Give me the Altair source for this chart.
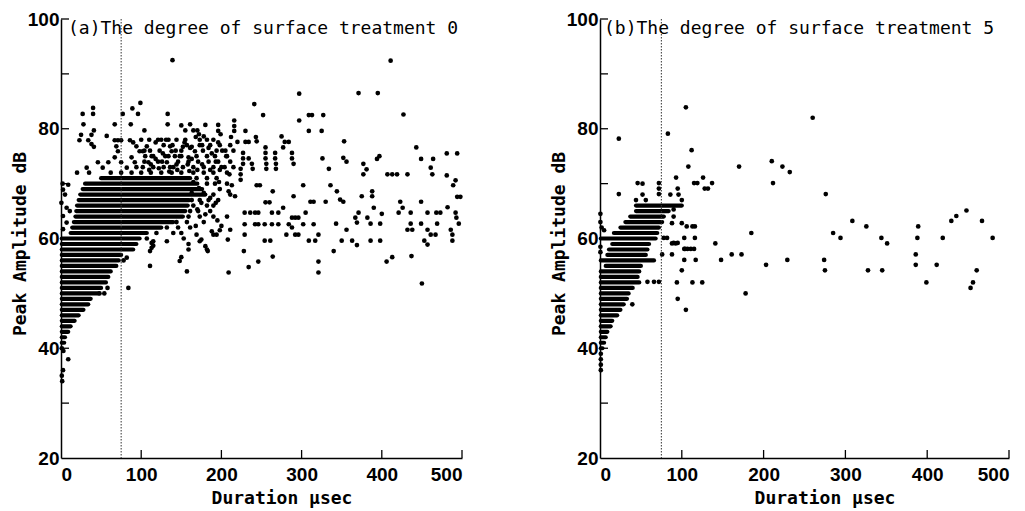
import altair as alt
import pandas as pd

# ---------------- data ----------------
TITLE_A = "(a)The degree of surface treatment 0"
TITLE_B = "(b)The degree of surface treatment 5"
X_LABELS = [0, 100, 200, 300, 400, 500]
Y_LABELS = [20, 40, 60, 80, 100]
Y_TICKS = [30, 40, 50, 60, 70, 80, 90, 100]
X_TICKS = [100, 200, 300, 400, 500]
DOTTED_X = 75

# Panel (a): dense rows (amplitude level, first duration, last duration)
A_BAND_DB = [71, 70, 69, 68, 67, 66, 65, 64, 63, 62, 61, 60, 59, 58, 57, 56,
             55, 54, 53, 52, 51, 50, 49, 48, 47, 46, 45, 44, 43, 42, 41]
A_BAND_START = [50, 30, 27, 24, 22, 20, 19, 18, 16, 14, 12, 1, 1, 1, 1, 1,
                1, 1, 1, 1, 1, 1, 1, 1, 1, 1, 1, 1, 1, 1, 1]
A_BAND_END = [161, 170, 176, 180, 160, 158, 155, 152, 140, 125, 107, 98, 94, 90, 75, 72,
              69, 62, 59, 56, 50, 47, 37, 34, 28, 22, 17, 12, 9, 5, 4]

# Panel (a): scattered events (duration, amplitude)
A_POINTS = [
    (139, 92.5), (411, 92.4), (297, 86.4), (371, 86.5), (395, 86.5), (241, 84.5), (99, 84.7),
    (89, 83.7), (427, 82.6), (27, 82.7), (40, 83.8), (40, 82.7), (77, 82.7), (96, 82.7),
    (133, 82.7), (252, 82.5), (309, 82.5), (313, 82.5), (327, 82.5), (297, 81.5),
    (28, 80.8), (67, 80.8), (87, 80.8), (133, 80.8), (161, 80.8), (150, 80.6), (180, 80.7),
    (196, 80.7), (216, 81.5), (216, 80.5), (41, 79.7), (104, 79.7), (155, 79.7), (165, 79.7),
    (170, 79.7), (196, 79.6), (216, 79.6), (230, 79.6), (309, 79.6), (325, 79.6),
    (38, 78.9), (25, 78.9), (57, 78.7), (178, 78.6), (199, 79), (243, 78.5), (275, 78.6),
    (23, 77.9), (34, 77.9), (67, 77.9), (71, 77.9), (75, 77.9), (86, 77.9), (90, 77.5),
    (121, 78), (125, 78), (134, 78), (144, 78), (155, 78), (173, 78), (182, 78), (190, 78),
    (220, 77.6), (230, 77.6), (234, 77.6), (244, 77.7), (279, 77.6), (284, 77.6),
    (38, 77.2), (41, 76.7), (69, 76.8), (94, 76.8), (107, 76.8), (128, 77), (136, 76.8),
    (152, 76.7), (157, 77), (163, 76.7), (173, 77), (186, 77), (198, 77), (211, 77),
    (255, 76.6), (277, 76.6), (353, 77.7), (443, 76.6),
    (71, 75.9), (98, 75.9), (102, 75.9), (111, 76), (123, 76), (138, 75.9), (150, 76),
    (167, 75.9), (177, 76), (194, 76), (205, 76), (215, 76), (227, 75.6), (255, 75.6),
    (267, 75.6), (288, 75.6), (481, 75.5), (494, 75.5), (397, 75),
    (67, 74.8), (88, 74.8), (105, 75), (115, 75), (130, 75), (142, 75), (159, 74.8),
    (169, 75), (182, 75), (192, 75), (207, 75), (227, 74.6), (234, 74.6), (255, 74.6),
    (267, 74.6), (288, 74.6), (326, 74.6), (352, 74.7), (394, 74.5), (449, 74.5), (464, 74.5),
    (46, 73.9), (59, 73.9), (75, 73.9), (92, 73.9), (109, 73.9), (121, 74), (132, 73.9),
    (146, 74), (159, 74), (171, 74), (184, 74), (196, 74), (211, 74), (227, 73.6),
    (238, 73.6), (256, 73.6), (268, 73.6), (290, 73.6), (356, 74), (377, 73.6),
    (32, 72.9), (52, 72.9), (82, 72.9), (94, 73), (102, 73), (115, 73), (128, 73), (140, 73),
    (152, 73), (165, 73), (178, 73), (190, 73), (200, 73), (215, 73), (224, 72.7),
    (239, 72.7), (256, 72.7), (268, 72.7), (334, 72.7), (381, 72.6), (461, 72.9),
    (20, 72), (35, 72), (62, 72), (75, 72), (88, 72), (100, 72), (112, 72), (125, 72),
    (138, 72), (150, 72), (165, 72), (178, 72), (190, 72), (207, 72), (210, 71.7),
    (224, 71.7), (377, 71.7), (407, 71.7), (413, 71.7), (419, 71.7), (432, 71.7), (463, 71.7),
    (481, 71.5), (169, 71), (182, 71), (194, 71), (224, 70.7), (492, 70.6),
    (182, 70), (192, 70), (207, 70), (302, 69.7), (336, 69.7), (244, 69.7), (248, 69.7),
    (213, 69.7), (489, 69.7), (2, 70), (9, 69.8), (198, 69), (264, 68.6), (209, 68.6),
    (344, 68.6), (388, 68.6), (2.5, 68.9), (190, 68), (211, 68), (217, 67.7), (290, 67.7),
    (375, 67.7), (388, 67.7), (498, 67.6), (494, 67.6), (5, 68),
    (163, 67), (173, 67), (184, 67), (196, 67), (311, 66.7), (315, 66.7), (330, 66.7),
    (255, 66.6), (260, 66.6), (348, 67.1), (352, 66.7), (423, 66.7), (449, 66.7), (0.5, 66.5),
    (165, 66), (182, 66), (190, 66), (277, 65.6), (390, 65.6), (426, 65.6), (482, 65.7),
    (7, 65.6), (11, 65), (161, 65), (171, 65), (186, 65), (229, 64.7), (236, 64.7),
    (242, 64.7), (246, 64.7), (263, 64.7), (271, 64.7), (305, 64.7), (371, 64.7), (400, 64.5),
    (421, 64.7), (436, 64.7), (457, 64.7), (468, 64.7), (473, 64.7), (492, 64.7),
    (159, 64), (173, 64), (190, 64), (207, 64), (288, 63.8), (292, 63.8), (296, 63.8),
    (367, 63.8), (382, 63.8), (493, 63.8), (2.5, 64.1),
    (144, 63), (157, 63), (178, 63), (229, 62.6), (242, 62.6), (246, 62.6), (254, 62.6),
    (263, 62.6), (271, 62.6), (284, 62.6), (302, 62.6), (315, 62.6), (343, 62.7), (369, 62.9),
    (386, 62.7), (398, 62.7), (436, 62.7), (449, 62.7), (469, 62.7), (496, 62.7), (7, 62.9),
    (132, 62), (146, 62), (161, 62), (198, 61.5), (211, 61.6), (288, 62), (356, 61.6),
    (432, 61.6), (438, 61.6), (457, 61.6), (486, 61.6), (2.5, 61.7),
    (119, 61), (140, 61), (150, 61), (169, 60.7), (190, 60.7), (194, 60.7), (229, 60.7),
    (281, 60.7), (292, 60.7), (296, 60.7), (321, 60.7), (461, 60.7), (467, 60.7), (488, 60.7),
    (107, 60), (115, 59.5), (153, 60), (173, 59.5), (208, 59.8), (175, 59.8), (254, 59.6),
    (261, 59.6), (309, 59.6), (317, 59.6), (350, 59.6), (363, 59.6), (386, 59.6), (398, 59.6),
    (453, 59.6), (488, 59.6), (113, 59.2), (132, 59.5),
    (115, 58.7), (159, 59), (180, 58.6), (182, 58), (369, 58.8), (457, 58.9),
    (113, 58.3), (159, 58), (111, 57.7), (183, 57.7), (228, 57.7), (340, 57.7),
    (150, 56.6), (264, 56.7), (413, 56.6), (437, 56.8), (82, 56.5),
    (148, 55.9), (246, 55.8), (321, 55.8), (406, 55.8), (78, 56),
    (111, 55), (234, 54.8), (157, 54), (209, 53.8), (321, 53.8), (450, 51.8),
    (84, 51), (58, 51), (54, 50), (48, 50),
    (1, 40), (3, 39.5), (9, 38), (2.5, 36), (1, 35), (1.5, 34),
    # denser cluster between 100 and 215 us
    (100, 78), (110, 78), (118, 77.5), (104, 76), (113, 75), (127, 75.5), (131, 78),
    (139, 77), (143, 76), (148, 75), (154, 77.5), (161, 76.5), (168, 78.5), (172, 79),
    (176, 77), (184, 76.5), (188, 75.5), (196, 77.5), (201, 76), (206, 75), (212, 78.5),
    (104, 74), (112, 73.5), (118, 74.5), (126, 74), (134, 75), (136, 73), (144, 73.5),
    (150, 75), (158, 73.5), (163, 74.5), (170, 72.5), (176, 73.5), (186, 72.5), (193, 74),
    (198, 72.5), (204, 73), (110, 72.5), (122, 72.8), (135, 72.2), (145, 72.5), (160, 72.3),
    (165, 70.3), (172, 69.2), (178, 68.3), (186, 67.4), (193, 66.5), (170, 65.3),
    (180, 64.4), (195, 63.3), (168, 62.3), (188, 61.3), (200, 62.3), (175, 66.5),
    (197, 70.3), (163, 68.3),
]

# Panel (b): dense rows
B_BAND_DB = [66, 65, 64, 63, 62, 61, 60, 59, 58, 57, 56, 55, 54, 53, 52, 51,
             50, 49, 48, 47, 46, 45, 44, 43, 42, 41, 40]
B_BAND_START = [44, 44, 37, 31, 25, 17, 1, 15, 11, 9, 1, 7, 1, 1, 1, 1,
                1, 1, 1, 1, 1, 1, 1, 1, 1, 1, 1]
B_BAND_END = [100, 84, 78, 76, 72, 70, 68, 60, 58, 56, 66, 50, 48, 46, 48, 40,
              35, 33, 29, 25, 21, 15, 13, 9, 7, 5, 3]

B_POINTS = [
    (105, 83.9), (260, 82), (23, 78.2), (83, 79.1), (112, 76.1), (108, 73.1), (170, 73.1),
    (210, 74.1), (223, 73.1), (232, 72.1), (211.5, 70.1), (93, 71.1), (115, 70.1), (119, 70.1),
    (126, 71.1), (128, 69.1), (132, 69.1), (137, 70.1), (95, 69.1), (46, 70.1), (72, 70.1),
    (72, 69.1), (72, 68.1), (23, 68.1), (276, 68.1), (141, 59.1), (185, 61), (148, 56.1),
    (161, 57.1), (173, 57.1), (203, 55.2), (229, 56.1), (178, 50), (105, 47), (95, 49),
    (94, 52), (113, 52), (125, 52), (100, 54.2), (103, 56.1), (117, 56.1), (103, 58.1),
    (107, 58.1), (111, 58.1), (115, 58.1), (103, 60.1), (116, 60.1), (116, 62.2), (88, 59.1),
    (92.5, 59.1), (88, 57.1), (78, 60.1), (82, 60.1), (285, 61), (294, 60.1), (308.5, 63.2),
    (325.6, 62.2), (327.6, 54.2), (344, 60.1), (351, 59.1), (345, 54.2), (274, 56.1),
    (275, 54.2), (386, 57.1), (386, 55.2), (388, 60.1), (389, 62.2), (399, 52), (411.6, 55.2),
    (419, 60.1), (429.5, 63.2), (435.6, 64.1), (448, 65.1), (467, 63.2), (480, 60.1),
    (460.5, 54.2), (456, 52), (453, 51),
    (52, 70), (44, 67), (52, 68), (56, 67), (86, 68), (96, 68), (100, 67), (90, 65.3),
    (90, 64), (88, 62.8), (100, 62.8), (106, 62.2), (113, 62.2), (90, 59.2), (95, 59.2),
    (104, 58.1), (76, 57.1), (58, 52.1), (66, 52.1), (72, 52.1), (39.5, 48),
    (0.5, 64.5), (0.5, 63), (2, 62), (5, 61.5), (0.5, 58.5), (0.5, 57.5),
    (1, 39), (1, 38), (1, 37), (1, 36),
]

# ---------------- chart ----------------
H = 439
LABEL_FONT = "Liberation Sans"
TITLE_FONT = "DejaVu Sans Mono"


def panel(band_db, band_s, band_e, points, title, W, title_dx):
    xs = alt.Scale(domain=[0, 500], nice=False, zero=False)
    ys = alt.Scale(domain=[20, 100], nice=False, zero=False)
    pts = pd.DataFrame(points, columns=["dur", "amp"])
    band = pd.DataFrame({"dur": band_s, "d1": band_e, "amp": band_db})

    x_axis = alt.Axis(values=X_LABELS, title="Duration μsec", ticks=False, grid=False,
                      domainColor="black", domainWidth=1.5, labelFont=LABEL_FONT,
                      labelFontSize=19, labelFontWeight="bold", labelColor="black",
                      labelPadding=7, titleFont=TITLE_FONT, titleFontSize=18,
                      titleFontWeight="bold", titleColor="black", titleX=W / 2 + 20,
                      titleY=40, titleBaseline="middle")
    y_axis = alt.Axis(values=Y_LABELS, title="Peak Amplitude dB", ticks=False, grid=False,
                      domainColor="black", domainWidth=1.5, labelFont=LABEL_FONT,
                      labelFontSize=19, labelFontWeight="bold", labelColor="black",
                      labelPadding=2, titleFont=TITLE_FONT, titleFontSize=18,
                      titleFontWeight="bold", titleColor="black", titleX=-41,
                      titleY=H / 2 + 5, titleBaseline="middle")

    X = lambda f: alt.X(f, scale=xs, axis=x_axis)
    Y = lambda f: alt.Y(f, scale=ys, axis=y_axis)

    dots = alt.Chart(pts).mark_circle(size=22, color="black", opacity=1).encode(
        x=X("dur:Q"), y=Y("amp:Q"))
    rows = alt.Chart(band).mark_rule(color="black", strokeWidth=4.2, strokeCap="round").encode(
        x=X("dur:Q"), x2="d1:Q", y=Y("amp:Q"))
    dotted = alt.Chart(pd.DataFrame({"dur": [DOTTED_X]})).mark_rule(
        color="#333333", strokeWidth=1, strokeDash=[1.5, 1.5]).encode(
        x=X("dur:Q"), y=alt.value(0), y2=alt.value(H))
    yt = alt.Chart(pd.DataFrame({"amp": Y_TICKS})).mark_rule(color="black", strokeWidth=1.3).encode(
        y=Y("amp:Q"), x=alt.value(0), x2=alt.value(8))
    xt = alt.Chart(pd.DataFrame({"dur": X_TICKS})).mark_rule(color="black", strokeWidth=1.3).encode(
        x=X("dur:Q"), y=alt.value(H), y2=alt.value(H - 8))
    ttl = alt.Chart(pd.DataFrame({"t": [title]})).mark_text(
        align="left", baseline="alphabetic", font=TITLE_FONT, fontSize=18, color="black").encode(
        x=alt.value(title_dx), y=alt.value(15), text="t:N")
    return alt.layer(dots, rows, dotted, yt, xt, ttl).properties(width=W, height=H)


a = panel(A_BAND_DB, A_BAND_START, A_BAND_END, A_POINTS, TITLE_A, 401, 7)
b = panel(B_BAND_DB, B_BAND_START, B_BAND_END, B_POINTS, TITLE_B, 409, 4)

chart = alt.hconcat(a, b, spacing=87).properties(
    padding={"left": 11, "top": 10, "right": 5, "bottom": 5},
    background="white",
).configure_view(stroke=None)

chart.save("out.html", embed_options={"renderer": "svg", "actions": False})
